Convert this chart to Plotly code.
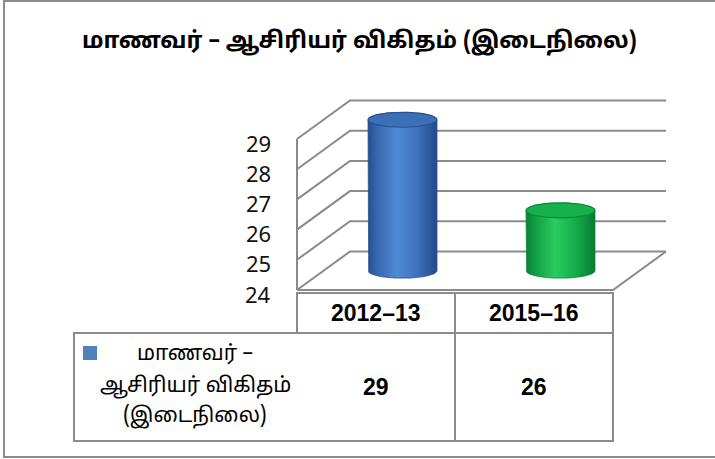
import numpy as np
import plotly.graph_objects as go

# ---- data -------------------------------------------------------------
TITLE = "மாணவர் – ஆசிரியர் விகிதம் (இடைநிலை)"
CATEGORIES = ["2012–13", "2015–16"]
VALUES = [29, 26]
SERIES_LINES = ["மாணவர் –", "ஆசிரியர் விகிதம்", "(இடைநிலை)"]
Y_TICKS = [24, 25, 26, 27, 28, 29]

# ---- styling ----------------------------------------------------------
BODY_SCALES = [
    [[0, "#264f8c"], [0.12, "#3565ab"], [0.42, "#4f8ad4"], [0.72, "#3d72bb"], [1, "#23488a"]],
    [[0, "#0a7f35"], [0.12, "#0f9c43"], [0.42, "#2bcb60"], [0.72, "#13ad4a"], [1, "#097a33"]],
]
TOP_FILLS = ["#3b6fb6", "#17b04d"]
RIM_COLORS = ["#2a5292", "#0c8a39"]
LEGEND_SWATCH = "#4f81bd"
GRID = "#8a8a8a"
TAMIL_FONT = "Noto Sans Tamil, Lohit Tamil, Noto Sans, Liberation Sans, sans-serif"
LATIN_FONT = "Liberation Sans, Arial, sans-serif"

W, H = 715, 459

# pixel frame of the front plane of the 3-D box
X0_PX, SLOT_PX = 297, 158        # left edge of first category slot, slot width
FLOOR_PX, UNIT_PX = 290, 30.2    # baseline pixel row, pixels per value unit
BASE = Y_TICKS[0]


def px_x(px):
    return (px - X0_PX) / SLOT_PX - 0.5


def px_y(py):
    return BASE + (FLOOR_PX - py) / UNIT_PX


def paper_y(py):
    return 1 - py / H


# oblique depth offset (front plane -> back wall)
DX = 53 / SLOT_PX
DY = 38.5 / UNIT_PX
X_LEFT, X_RIGHT = -0.5, len(CATEGORIES) - 0.5

fig = go.Figure()
shapes = []
annotations = []

# back wall gridlines with their diagonals along the side wall
for v in Y_TICKS:
    shapes.append(dict(
        type="path", layer="below",
        path=f"M {X_LEFT},{v} L {X_LEFT + DX},{v + DY} L {X_RIGHT + DX},{v + DY}",
        line=dict(color=GRID, width=2),
    ))
# front-left edge of the side wall
shapes.append(dict(type="line", layer="below", x0=X_LEFT, x1=X_LEFT,
                   y0=Y_TICKS[0], y1=Y_TICKS[-1], line=dict(color=GRID, width=2)))
# floor front and right edges
shapes.append(dict(type="path", layer="below",
                   path=f"M {X_LEFT},{BASE} L {X_RIGHT},{BASE} L {X_RIGHT + DX},{BASE + DY}",
                   line=dict(color=GRID, width=2)))

# cylinders
R = 34.5 / SLOT_PX
RY = 7.5 / UNIT_PX
t = np.linspace(0, np.pi, 80)
for i, v in enumerate(VALUES):
    cx = i + DX / 2
    yb = BASE + DY / 2
    yt = v + DY / 2
    bx = np.concatenate([[cx - R, cx - R], cx - R * np.cos(t), [cx + R], cx + R * np.cos(t)])
    by = np.concatenate([[yt, yb], yb - RY * np.sin(t), [yt], yt + RY * np.sin(t)])
    fig.add_trace(go.Scatter(
        x=bx, y=by, mode="lines", fill="toself",
        fillgradient=dict(type="horizontal", colorscale=BODY_SCALES[i]),
        line=dict(color=RIM_COLORS[i], width=0.8),
        hoverinfo="skip", showlegend=False,
    ))
    tt = np.linspace(0, 2 * np.pi, 120)
    fig.add_trace(go.Scatter(
        x=cx + R * np.cos(tt), y=yt + RY * np.sin(tt), mode="lines", fill="toself",
        fillcolor=TOP_FILLS[i], line=dict(color=RIM_COLORS[i], width=1.2),
        hoverinfo="skip", showlegend=False,
    ))

# value axis labels along the front edge
for v in Y_TICKS:
    annotations.append(dict(
        x=px_x(273), y=v - 3.5 / UNIT_PX, xref="x", yref="y",
        text=str(v), showarrow=False, xanchor="right", yanchor="middle",
        font=dict(family="Noto Sans, DejaVu Sans, sans-serif", size=22, color="#111111"),
    ))

# data table
TBL_LINE = dict(color="#8c8c8c", width=2)
HEAD_TOP, HEAD_BOT, ROW_BOT = 293, 333, 441
TBL_LEFT_X = px_x(74)
shapes.append(dict(type="rect", xref="x", yref="paper", x0=X_LEFT, x1=X_RIGHT,
                   y0=paper_y(HEAD_BOT), y1=paper_y(HEAD_TOP), line=TBL_LINE))
shapes.append(dict(type="rect", xref="x", yref="paper", x0=TBL_LEFT_X, x1=X_RIGHT,
                   y0=paper_y(ROW_BOT), y1=paper_y(HEAD_BOT), line=TBL_LINE))
for k in range(1, len(CATEGORIES)):
    shapes.append(dict(type="line", xref="x", yref="paper", x0=k - 0.5, x1=k - 0.5,
                       y0=paper_y(ROW_BOT), y1=paper_y(HEAD_TOP), line=TBL_LINE))

for i, (cat, v) in enumerate(zip(CATEGORIES, VALUES)):
    annotations.append(dict(
        x=i, y=paper_y((HEAD_TOP + HEAD_BOT) / 2), xref="x", yref="paper",
        text=f"<b>{cat}</b>", showarrow=False,
        font=dict(family=LATIN_FONT, size=23, color="#000000"), yanchor="middle",
    ))
    annotations.append(dict(
        x=i, y=paper_y(387), xref="x", yref="paper",
        text=f"<b>{v}</b>", showarrow=False,
        font=dict(family=LATIN_FONT, size=23, color="#000000"), yanchor="middle",
    ))

# series key inside the table
shapes.append(dict(type="rect", xref="x", yref="paper", x0=px_x(83), x1=px_x(97),
                   y0=paper_y(360), y1=paper_y(346), fillcolor=LEGEND_SWATCH, line=dict(width=0)))
for line_txt, py in zip(SERIES_LINES, [355, 387, 417]):
    annotations.append(dict(
        x=px_x(195), y=paper_y(py), xref="x", yref="paper", text=line_txt,
        showarrow=False, xanchor="center", yanchor="middle",
        font=dict(family=TAMIL_FONT, size=21, color="#000000"),
    ))

# title
annotations.append(dict(
    x=px_x(359), y=paper_y(42), xref="x", yref="paper", text=f"<b>{TITLE}</b>",
    showarrow=False, xanchor="center", yanchor="middle",
    font=dict(family=TAMIL_FONT, size=23, color="#000000"),
))

# outer frame (open on the right)
shapes.append(dict(type="path", xref="paper", yref="paper",
                   path=f"M 1.01,{paper_y(1)} L {4 / W},{paper_y(1)} L {4 / W},{paper_y(457)} L 1.01,{paper_y(457)}",
                   line=dict(color="#8c8c8c", width=2)))

fig.update_layout(
    width=W, height=H, margin=dict(l=0, r=0, t=0, b=0),
    paper_bgcolor="white", plot_bgcolor="white",
    xaxis=dict(range=[px_x(0), px_x(W)], visible=False, fixedrange=True),
    yaxis=dict(range=[px_y(H), px_y(0)], visible=False, fixedrange=True),
    shapes=shapes, annotations=annotations, showlegend=False,
)

fig.write_html("out.html")
